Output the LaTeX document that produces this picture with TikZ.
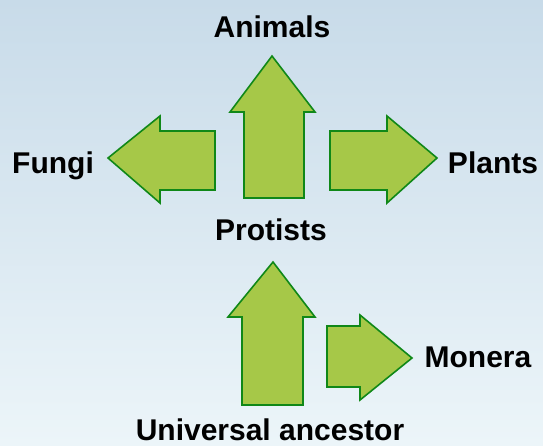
\documentclass[tikz,border=0pt]{standalone}
\usepackage{fontspec}
\setmainfont{Liberation Sans}
\definecolor{skytop}{RGB}{200,219,233}
\definecolor{skybot}{RGB}{236,245,249}
\definecolor{leaf}{RGB}{166,200,72}
\definecolor{leafedge}{RGB}{16,136,24}
\begin{document}
\begin{tikzpicture}[x=1pt,y=-1pt,
  blockarrow/.style={fill=leaf,draw=leafedge,line width=1.6pt,line join=miter},
  kingdom/.style={anchor=base,font=\fontsize{30}{32}\selectfont\bfseries,inner sep=0pt}]
\shade[top color=skytop,bottom color=skybot] (0,0) rectangle (543,445);
\useasboundingbox (0,0) rectangle (543,445);
% labels
\node[kingdom] (animals) at (272,37) {Animals};
\node[kingdom] (fungi) at (53,173) {Fungi};
\node[kingdom] (plants) at (493,173) {Plants};
\node[kingdom] (protists) at (271,240) {Protists};
\node[kingdom] (monera) at (478,367) {Monera};
\node[kingdom] (ancestor) at (270,440) {Universal ancestor};
% arrows
\draw[blockarrow] (244,198) -- (244,112) -- (230,112) -- (272,56) -- (315,112) -- (304,112) -- (304,198) -- cycle;
\draw[blockarrow] (215,131) -- (160,131) -- (160,116) -- (108,158) -- (160,203) -- (160,190) -- (215,190) -- cycle;
\draw[blockarrow] (330,131) -- (387,131) -- (387,116) -- (437,158) -- (387,203) -- (387,190) -- (330,190) -- cycle;
\draw[blockarrow] (242,405) -- (242,317) -- (228,317) -- (273,262) -- (315,317) -- (303,317) -- (303,405) -- cycle;
\draw[blockarrow] (327,326) -- (360,326) -- (360,315) -- (412,358) -- (360,400) -- (360,387) -- (327,387) -- cycle;
\end{tikzpicture}
\end{document}
